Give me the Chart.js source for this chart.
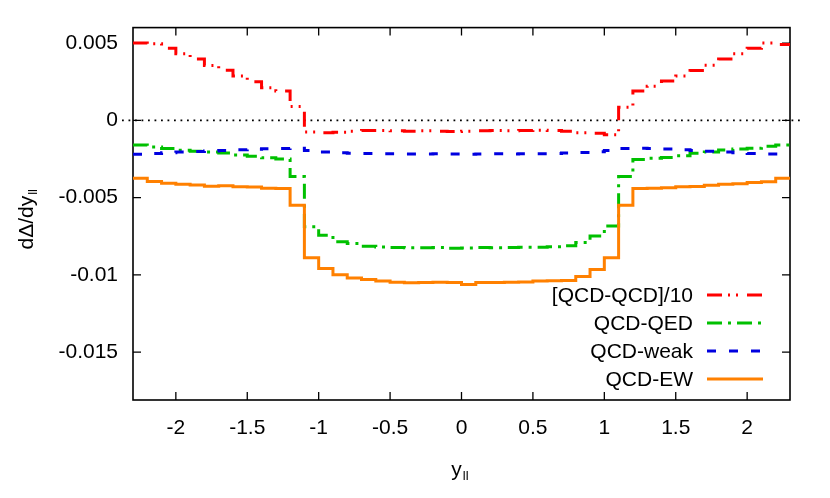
<!DOCTYPE html>
<html>
<head>
<meta charset="utf-8">
<script src="https://cdn.jsdelivr.net/npm/chart.js@4/dist/chart.umd.min.js"></script>
<style>
  html, body { margin: 0; padding: 0; background: #fff; }
  canvas { display: block; }
</style>
</head>
<body>
<canvas id="chart" width="830" height="498"></canvas>
<script>
// bin edges in y_ll (0.1 wide bins)
const binEdges = [-2.3, -2.2, -2.1, -2.0, -1.9, -1.8, -1.7, -1.6, -1.5, -1.4, -1.3, -1.2,
  -1.1, -1.0, -0.9, -0.8, -0.7, -0.6, -0.5, -0.4, -0.3, -0.2, -0.1, 0.0, 0.1, 0.2,
  0.3, 0.4, 0.5, 0.6, 0.7, 0.8, 0.9, 1.0, 1.1, 1.2, 1.3, 1.4, 1.5, 1.6, 1.7, 1.8,
  1.9, 2.0, 2.1, 2.2, 2.3];

const qcdQcd10 = [0.00500, 0.00495, 0.00467, 0.00430, 0.00396, 0.00354, 0.00324, 0.00286,
  0.00250, 0.00211, 0.00190, 0.00090, -0.00075, -0.00080, -0.00078, -0.00070, -0.00066,
  -0.00066, -0.00068, -0.00070, -0.00068, -0.00070, -0.00072, -0.00070, -0.00068, -0.00066,
  -0.00068, -0.00066, -0.00064, -0.00066, -0.00070, -0.00080, -0.00084, -0.00094, 0.00085,
  0.00190, 0.00220, 0.00255, 0.00286, 0.00322, 0.00356, 0.00396, 0.00430, 0.00467, 0.00500,
  0.00490];

const qcdQed = [-0.00160, -0.00172, -0.00183, -0.00194, -0.00200, -0.00205, -0.00212, -0.00224,
  -0.00232, -0.00243, -0.00251, -0.00364, -0.00689, -0.00744, -0.00786, -0.00798, -0.00815,
  -0.00820, -0.00823, -0.00825, -0.00825, -0.00823, -0.00828, -0.00826, -0.00823, -0.00825,
  -0.00823, -0.00822, -0.00822, -0.00818, -0.00812, -0.00790, -0.00748, -0.00684, -0.00364,
  -0.00254, -0.00246, -0.00240, -0.00230, -0.00213, -0.00205, -0.00192, -0.00186, -0.00180,
  -0.00168, -0.00160];

const qcdWeak = [-0.00220, -0.00215, -0.00210, -0.00205, -0.00202, -0.00198, -0.00195, -0.00190,
  -0.00187, -0.00184, -0.00182, -0.00180, -0.00195, -0.00205, -0.00210, -0.00213, -0.00215,
  -0.00216, -0.00217, -0.00218, -0.00218, -0.00217, -0.00218, -0.00219, -0.00218, -0.00217,
  -0.00218, -0.00217, -0.00216, -0.00215, -0.00212, -0.00208, -0.00203, -0.00195, -0.00182,
  -0.00180, -0.00182, -0.00185, -0.00190, -0.00195, -0.00200, -0.00205, -0.00210, -0.00215,
  -0.00218, -0.00218];

const qcdEw = [-0.00375, -0.00396, -0.00407, -0.00413, -0.00418, -0.00426, -0.00424, -0.00430,
  -0.00432, -0.00440, -0.00442, -0.00550, -0.00889, -0.00959, -0.01000, -0.01020, -0.01030,
  -0.01040, -0.01048, -0.01052, -0.01050, -0.01048, -0.01050, -0.01062, -0.01050, -0.01050,
  -0.01048, -0.01046, -0.01040, -0.01038, -0.01036, -0.01010, -0.00965, -0.00890, -0.00550,
  -0.00442, -0.00440, -0.00436, -0.00430, -0.00428, -0.00420, -0.00414, -0.00410, -0.00402,
  -0.00398, -0.00375];

const seriesLabels = ['[QCD-QCD]/10', 'QCD-QED', 'QCD-weak', 'QCD-EW'];
const seriesColors = ['#ff0000', '#00c000', '#0000e0', '#ff8000'];
const seriesDash = [[15, 6, 2, 6, 2, 9], [15, 6, 3, 6], [9, 13], []];

const FONT = '"Liberation Sans", Arial, Helvetica, sans-serif';
const FS = 21;

// histogram -> step points; with stepped 'before' the line runs flat from
// edge i to edge i+1 at bin i's value, then steps
function toSteps(vals) {
  const pts = vals.map((v, i) => ({ x: binEdges[i], y: v }));
  pts.push({ x: binEdges[vals.length], y: vals[vals.length - 1] });
  return pts;
}

function fmt(v) {
  return String(Math.round(v * 1e6) / 1e6);
}

const frameAndLegend = {
  id: 'frameAndLegend',
  beforeDatasetsDraw(chart) {
    const ctx = chart.ctx;
    const a = chart.chartArea;
    const xs = chart.scales.x, ys = chart.scales.y;
    ctx.save();
    // dotted zero line
    const y0 = ys.getPixelForValue(0);
    ctx.strokeStyle = '#000';
    ctx.lineWidth = 1.8;
    ctx.setLineDash([1.8, 4.7]);
    ctx.beginPath();
    ctx.moveTo(a.left - 11, y0);
    ctx.lineTo(a.right + 13, y0);
    ctx.stroke();
    ctx.setLineDash([]);
    // frame
    ctx.lineWidth = 1.6;
    ctx.strokeRect(a.left, a.top, a.right - a.left, a.bottom - a.top);
    // inward ticks on all sides
    const tl = 8;
    ctx.lineWidth = 1.3;
    ctx.beginPath();
    xs.ticks.forEach(t => {
      const px = xs.getPixelForValue(t.value);
      ctx.moveTo(px, a.bottom); ctx.lineTo(px, a.bottom - tl);
      ctx.moveTo(px, a.top); ctx.lineTo(px, a.top + tl);
    });
    ys.ticks.forEach(t => {
      const py = ys.getPixelForValue(t.value);
      ctx.moveTo(a.left, py); ctx.lineTo(a.left + tl, py);
      ctx.moveTo(a.right, py); ctx.lineTo(a.right - tl, py);
    });
    ctx.stroke();
    ctx.restore();
  },
  afterDraw(chart) {
    const ctx = chart.ctx;
    const a = chart.chartArea;
    ctx.save();
    ctx.fillStyle = '#000';
    // legend
    ctx.font = FS + 'px ' + FONT;
    ctx.textAlign = 'right';
    ctx.textBaseline = 'middle';
    seriesLabels.forEach((lab, i) => {
      const yy = a.bottom - 105 + i * 28;
      ctx.fillStyle = '#000';
      ctx.fillText(lab, a.right - 97, yy + 1);
      ctx.strokeStyle = seriesColors[i];
      ctx.lineWidth = 3;
      ctx.setLineDash(seriesDash[i]);
      ctx.beginPath();
      ctx.moveTo(a.right - 83, yy);
      ctx.lineTo(a.right - 27, yy);
      ctx.stroke();
    });
    ctx.setLineDash([]);
    // x title y_ll
    ctx.textAlign = 'left';
    ctx.textBaseline = 'alphabetic';
    const xMain = 'y';
    ctx.font = FS + 'px ' + FONT;
    const w1 = ctx.measureText(xMain).width;
    ctx.font = '13px ' + FONT;
    const w2 = ctx.measureText('ll').width;
    const cx = (a.left + a.right) / 2 - 2;
    const x0 = cx - (w1 + w2) / 2;
    ctx.font = FS + 'px ' + FONT;
    ctx.fillText(xMain, x0, 476);
    ctx.font = '13px ' + FONT;
    ctx.fillText('ll', x0 + w1 + 1, 480);
    // y title dΔ/dy_ll
    ctx.translate(33, (a.top + a.bottom) / 2 + 6);
    ctx.rotate(-Math.PI / 2);
    const yMain = 'd\u0394/dy';
    ctx.font = FS + 'px ' + FONT;
    const v1 = ctx.measureText(yMain).width;
    ctx.font = '13px ' + FONT;
    const v2 = ctx.measureText('ll').width;
    const yy0 = -(v1 + v2) / 2;
    ctx.font = FS + 'px ' + FONT;
    ctx.fillText(yMain, yy0, 0);
    ctx.font = '13px ' + FONT;
    ctx.fillText('ll', yy0 + v1 + 1, 4);
    ctx.restore();
  }
};

const datasets = [qcdQcd10, qcdQed, qcdWeak, qcdEw].map((vals, i) => ({
  label: seriesLabels[i],
  data: toSteps(vals),
  borderColor: seriesColors[i],
  borderDash: seriesDash[i],
  borderWidth: 3,
  stepped: 'before',
  pointRadius: 0,
  fill: false,
  order: 4 - i
}));

new Chart(document.getElementById('chart'), {
  type: 'line',
  data: { datasets },
  options: {
    responsive: false,
    animation: false,
    devicePixelRatio: 1,
    layout: { padding: { left: 0, right: 40, top: 24, bottom: 0 } },
    plugins: {
      legend: { display: false },
      tooltip: { enabled: false }
    },
    scales: {
      x: {
        type: 'linear',
        min: -2.3,
        max: 2.3,
        grid: { display: false, drawTicks: false },
        border: { display: false },
        ticks: {
          stepSize: 0.5,
          includeBounds: false,
          padding: 16,
          color: '#000',
          font: { family: FONT, size: FS },
          maxRotation: 0,
          callback: v => fmt(v)
        },
        afterFit: s => { s.height = 98; }
      },
      y: {
        type: 'linear',
        min: -0.0181,
        max: 0.006,
        grid: { display: false, drawTicks: false },
        border: { display: false },
        ticks: {
          stepSize: 0.005,
          includeBounds: false,
          padding: 15,
          color: '#000',
          font: { family: FONT, size: FS },
          callback: v => fmt(v)
        },
        afterFit: s => { s.width = 133; }
      }
    }
  },
  plugins: [frameAndLegend]
});
</script>
</body>
</html>
